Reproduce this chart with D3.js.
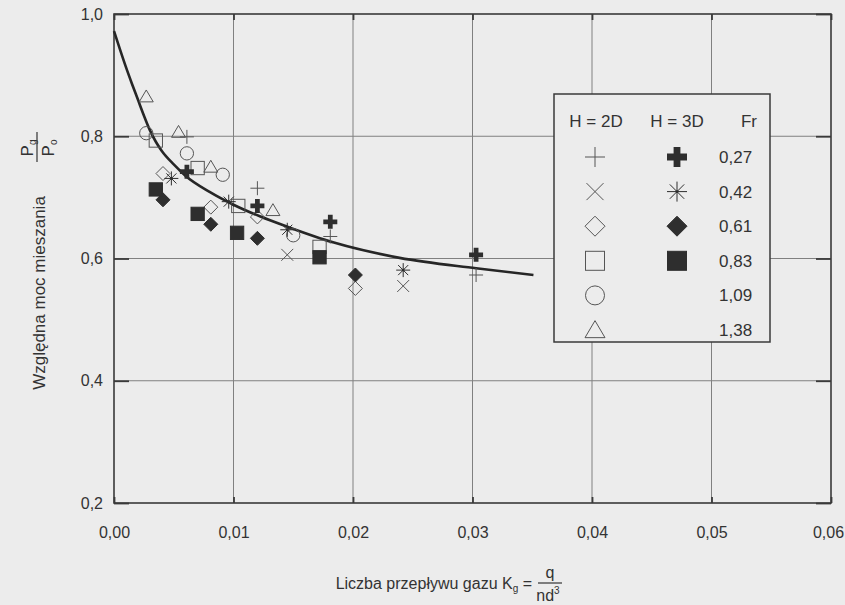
<!DOCTYPE html>
<html>
<head>
<meta charset="utf-8">
<script src="https://cdn.jsdelivr.net/npm/d3@7"></script>
<style>
  body { margin: 0; background: #ececec; }
  svg { display: block; }
  svg text { font-family: "Liberation Sans", Arial, sans-serif; }
</style>
</head>
<body>
<svg id="chart" width="845" height="605"></svg>
<script>
// tick values
const xTicks = [0, 0.01, 0.02, 0.03, 0.04, 0.05, 0.06];
const yTicks = [0.2, 0.4, 0.6, 0.8, 1.0];

// legend
const frLabels = ["0,27", "0,42", "0,61", "0,83", "1,09", "1,38"];
const shapes2D = ["plus", "cross", "diamond", "square", "circle", "triangle"];
const shapes3D = ["boldPlus", "asterisk", "diamondFill", "squareFill", null, null];

// measured points, H = 2D (Fr 0,27 ... 1,38)
const kg2D = [
    [0.0061, 0.0120, 0.0181, 0.0303],
    [0.0145, 0.0242],
    [0.0041, 0.0081, 0.0120, 0.0202],
    [0.0035, 0.0070, 0.0104, 0.0172],
    [0.0027, 0.0061, 0.0091, 0.0150],
    [0.0027, 0.0054, 0.0081, 0.0133]
];
const p2D = [
    [0.799, 0.715, 0.636, 0.573],
    [0.606, 0.555],
    [0.739, 0.684, 0.668, 0.551],
    [0.793, 0.748, 0.686, 0.619],
    [0.805, 0.772, 0.737, 0.638],
    [0.865, 0.807, 0.750, 0.679]
];

// measured points, H = 3D (Fr 0,27 ... 0,83)
const kg3D = [
    [0.0061, 0.0120, 0.0181, 0.0303],
    [0.0048, 0.0096, 0.0145, 0.0242],
    [0.0041, 0.0081, 0.0120, 0.0202],
    [0.0035, 0.0070, 0.0103, 0.0172]
];
const p3D = [
    [0.742, 0.686, 0.660, 0.606],
    [0.731, 0.693, 0.647, 0.581],
    [0.696, 0.656, 0.633, 0.573],
    [0.713, 0.673, 0.642, 0.602]
];

// fitted curve
const curveKg = [0, 0.0005, 0.001, 0.0015, 0.002, 0.0025, 0.003, 0.0035, 0.004, 0.005, 0.006, 0.008, 0.010, 0.0122, 0.0145, 0.0184, 0.0239, 0.0303, 0.0351];
const curveP  = [0.972, 0.942, 0.913, 0.886, 0.860, 0.834, 0.810, 0.791, 0.776, 0.754, 0.735, 0.709, 0.688, 0.669, 0.652, 0.626, 0.601, 0.584, 0.573];

const svg = d3.select("#chart");
const bg = "#ececec";
const ink = "#2e2e2e";
const thin = "#555";

const x = d3.scaleLinear().domain([0, 0.06]).range([114, 831]);
const y = d3.scaleLinear().domain([0.2, 1.0]).range([503, 14]);

const loc = d3.formatLocale({decimal: ",", thousands: ".", grouping: [3], currency: ["", ""]});

svg.append("rect").attr("width", 845).attr("height", 605).attr("fill", bg);

// grid
svg.append("g").selectAll("line")
    .data(xTicks.slice(1, -1))
    .join("line")
    .attr("x1", d => x(d)).attr("x2", d => x(d))
    .attr("y1", y(1.0)).attr("y2", y(0.2))
    .attr("stroke", "#808080").attr("stroke-width", 1);
svg.append("g").selectAll("line")
    .data(yTicks.slice(1, -1))
    .join("line")
    .attr("x1", x(0)).attr("x2", x(0.06))
    .attr("y1", d => y(d)).attr("y2", d => y(d))
    .attr("stroke", "#808080").attr("stroke-width", 1);

// axes, ticks pointing inwards
function styleAxis(g) {
    g.select(".domain").remove();
    g.selectAll(".tick line").attr("stroke", "#3a3a3a").attr("stroke-width", 1.8);
    g.selectAll("text").attr("fill", "#333").style("font-size", "16px");
}
const xAxisG = svg.append("g").attr("transform", `translate(0,${y(0.2)})`)
    .call(d3.axisBottom(x).tickValues(xTicks).tickSize(-6).tickPadding(24).tickFormat(loc.format(".2f")))
    .call(styleAxis);
// last label sits at the page edge
xAxisG.selectAll(".tick text").filter(d => d === 0.06).attr("dx", -3);
svg.append("g").attr("transform", `translate(0,${y(1.0)})`)
    .call(d3.axisTop(x).tickValues(xTicks).tickSize(-6).tickFormat(""))
    .call(styleAxis);
svg.append("g").attr("transform", `translate(${x(0)},0)`)
    .call(d3.axisLeft(y).tickValues(yTicks).tickSize(-15).tickPadding(11).tickFormat(loc.format(".1f")))
    .call(styleAxis);
svg.append("g").attr("transform", `translate(${x(0.06)},0)`)
    .call(d3.axisRight(y).tickValues(yTicks).tickSize(-15).tickFormat(""))
    .call(styleAxis);

// frame
svg.append("rect")
    .attr("x", x(0)).attr("y", y(1.0))
    .attr("width", x(0.06) - x(0)).attr("height", y(0.2) - y(1.0))
    .attr("fill", "none").attr("stroke", "#3a3a3a").attr("stroke-width", 1.6);

// marker shapes
function marker(g, kind, s) {
    if (kind === "plus") {
        g.append("path").attr("d", `M${-s},0H${s}M0,${-s}V${s}`)
            .attr("stroke", thin).attr("stroke-width", 1).attr("fill", "none");
    } else if (kind === "cross") {
        const k = s * 0.85;
        g.append("path").attr("d", `M${-k},${-k}L${k},${k}M${-k},${k}L${k},${-k}`)
            .attr("stroke", thin).attr("stroke-width", 1).attr("fill", "none");
    } else if (kind === "diamond" || kind === "diamondFill") {
        const f = kind === "diamondFill";
        g.append("path").attr("d", `M0,${-s}L${s},0L0,${s}L${-s},0Z`)
            .attr("fill", f ? ink : "none").attr("stroke", f ? ink : thin).attr("stroke-width", 1);
    } else if (kind === "square" || kind === "squareFill") {
        const f = kind === "squareFill";
        const k = s * 0.95;
        g.append("rect").attr("x", -k).attr("y", -k).attr("width", 2 * k).attr("height", 2 * k)
            .attr("fill", f ? ink : "none").attr("stroke", f ? ink : thin).attr("stroke-width", 1);
    } else if (kind === "circle") {
        g.append("circle").attr("r", s * 0.95)
            .attr("fill", "none").attr("stroke", thin).attr("stroke-width", 1);
    } else if (kind === "triangle") {
        const h = s * 1.7;
        g.append("path").attr("d", `M0,${-h * 0.55}L${s},${h * 0.45}L${-s},${h * 0.45}Z`)
            .attr("fill", "none").attr("stroke", thin).attr("stroke-width", 1);
    } else if (kind === "boldPlus") {
        const w = s * 0.34;
        g.append("path")
            .attr("d", `M${-w},${-s}H${w}V${-w}H${s}V${w}H${w}V${s}H${-w}V${w}H${-s}V${-w}H${-w}Z`)
            .attr("fill", ink);
    } else if (kind === "asterisk") {
        const k = s * 0.72;
        g.append("path")
            .attr("d", `M${-s},0H${s}M0,${-s}V${s}M${-k},${-k}L${k},${k}M${-k},${k}L${k},${-k}`)
            .attr("stroke", ink).attr("stroke-width", 1).attr("fill", "none");
        g.append("circle").attr("r", 1.4).attr("fill", ink);
    }
}

// fitted curve
const curvePts = curveKg.map((k, i) => [k, curveP[i]]);
svg.append("path")
    .datum(curvePts)
    .attr("fill", "none")
    .attr("stroke", "#262626")
    .attr("stroke-width", 2.6)
    .attr("d", d3.line().x(d => x(d[0])).y(d => y(d[1])).curve(d3.curveMonotoneX));

// data points
const pts = [];
kg2D.forEach((arr, i) => arr.forEach((k, j) => pts.push({kind: shapes2D[i], k: k, p: p2D[i][j]})));
kg3D.forEach((arr, i) => arr.forEach((k, j) => pts.push({kind: shapes3D[i], k: k, p: p3D[i][j]})));
svg.append("g").selectAll("g")
    .data(pts)
    .join("g")
    .attr("transform", d => `translate(${x(d.k)},${y(d.p)})`)
    .each(function(d) { marker(d3.select(this), d.kind, 7); });

// legend
const lg = svg.append("g");
lg.append("rect").attr("x", 554).attr("y", 94).attr("width", 216).attr("height", 248)
    .attr("fill", bg).attr("stroke", "#3a3a3a").attr("stroke-width", 1.5);
const head = lg.append("g").style("font-size", "17px").attr("fill", "#333");
head.append("text").attr("x", 596).attr("y", 127).attr("text-anchor", "middle").text("H = 2D");
head.append("text").attr("x", 677).attr("y", 127).attr("text-anchor", "middle").text("H = 3D");
head.append("text").attr("x", 757).attr("y", 127).attr("text-anchor", "end").text("Fr");

const rowY = d3.scalePoint().domain(frLabels).range([157, 330]);
frLabels.forEach((fr, i) => {
    marker(lg.append("g").attr("transform", `translate(595,${rowY(fr)})`), shapes2D[i], 10);
    if (shapes3D[i]) marker(lg.append("g").attr("transform", `translate(677,${rowY(fr)})`), shapes3D[i], 10);
    lg.append("text").attr("x", 719).attr("y", rowY(fr) + 6)
        .style("font-size", "17px").attr("fill", "#333").text(fr);
});

// y title (rotated)
const yt = svg.append("g").attr("transform", "translate(38,293) rotate(-90)")
    .attr("fill", "#333").style("font-size", "17px");
yt.append("text").attr("x", 0).attr("y", 7).attr("text-anchor", "middle").text("Względna moc mieszania");
const fr = yt.append("g").attr("transform", "translate(146,0)");
fr.append("line").attr("x1", -15).attr("x2", 15).attr("y1", -1).attr("y2", -1)
    .attr("stroke", "#333").attr("stroke-width", 1.2);
const num = fr.append("text").attr("x", -1).attr("y", -5).attr("text-anchor", "middle");
num.append("tspan").text("P");
num.append("tspan").attr("dy", 3).style("font-size", "10px").text("g");
const den = fr.append("text").attr("x", -1).attr("y", 16).attr("text-anchor", "middle");
den.append("tspan").text("P");
den.append("tspan").attr("dy", 3).style("font-size", "10px").text("o");

// x title
const xt = svg.append("g").attr("fill", "#333").style("font-size", "16px");
const xl = xt.append("text").attr("x", 532).attr("y", 589).attr("text-anchor", "end");
xl.append("tspan").text("Liczba przepływu gazu K");
xl.append("tspan").attr("dy", 3).style("font-size", "10px").text("g");
xl.append("tspan").attr("dy", -3).text(" =");
xt.append("line").attr("x1", 538).attr("x2", 562).attr("y1", 583).attr("y2", 583)
    .attr("stroke", "#333").attr("stroke-width", 1.2);
xt.append("text").attr("x", 550).attr("y", 578).attr("text-anchor", "middle").text("q");
const dn = xt.append("text").attr("x", 548).attr("y", 601).attr("text-anchor", "middle");
dn.append("tspan").text("nd");
dn.append("tspan").attr("dy", -7).style("font-size", "10px").text("3");
</script>
</body>
</html>
